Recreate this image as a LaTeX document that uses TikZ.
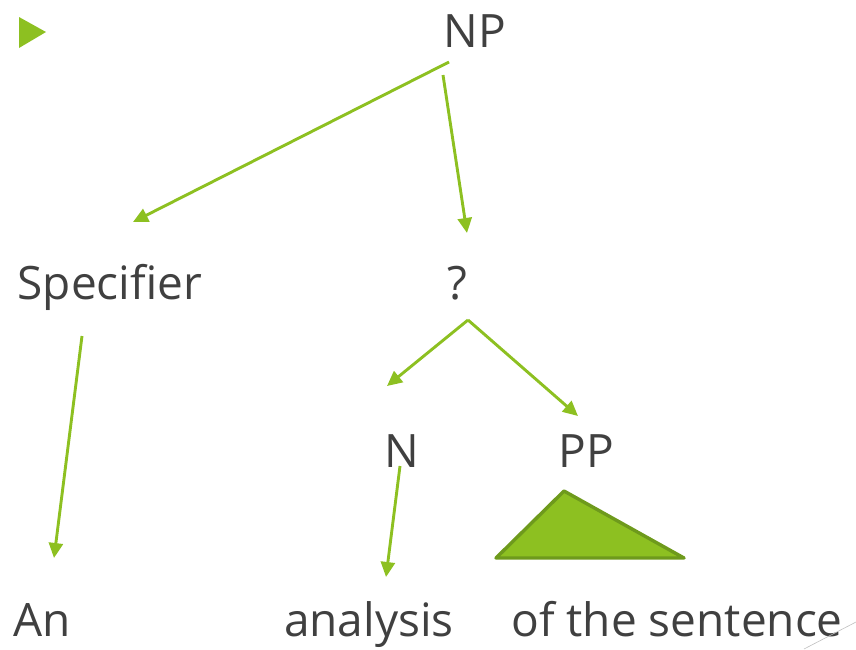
\documentclass[tikz,border=0pt]{standalone}
\usepackage{fontspec}
\setmainfont{Open Sans}
\usepackage{tikz}
\usetikzlibrary{arrows.meta}
\definecolor{leaf}{HTML}{8DC021}
\definecolor{leafdark}{HTML}{6E9A1C}
\definecolor{ink}{HTML}{404040}
\tikzset{
	branch/.style={draw=leaf, line width=2.9pt, -{Triangle[length=15pt,width=14pt]}},
	word/.style={font=\fontsize{46}{55}\selectfont, text=ink, inner sep=0pt, anchor=base}
}

\begin{document}
\begin{tikzpicture}[x=1pt,y=-1pt]
	\useasboundingbox (0,0) rectangle (856,649);
	\fill[leaf] (19,17) -- (19,48) -- (46,32) -- cycle;
	% tree labels
	\node[word] (np) at (475,47) {NP};
	\node[word] (spec) at (110,299) {Specifier};
	\node[word] (q) at (457,299) {?};
	\node[word] (n) at (402,467) {N};
	\node[word] (pp) at (586,467) {PP};
	\node[word] (an) at (42,636) {An};
	\node[word] (anal) at (369,636) {analysis};
	\node[word] (sent) at (677,636) {of the sentence};
	% branches
	\draw[branch] ([xshift=-26pt,yshift=-15pt]np.base) -- ([xshift=23pt,yshift=77pt]spec.base);
	\draw[branch] ([xshift=-32pt,yshift=-28pt]np.base) -- ([xshift=10pt,yshift=66pt]q.base);
	\draw[branch] ([xshift=11pt,yshift=-21pt]q.base) -- ([xshift=-15pt,yshift=81pt]n.base);
	\draw[branch] ([xshift=11pt,yshift=-21pt]q.base) -- ([xshift=-8pt,yshift=51pt]pp.base);
	\draw[branch] ([xshift=-28pt,yshift=-37pt]spec.base) -- ([xshift=12pt,yshift=78pt]an.base);
	\draw[branch] ([xshift=-2pt,yshift=1pt]n.base) -- ([xshift=17pt,yshift=59pt]anal.base);
	% PP triangle
	\filldraw[fill=leaf, draw=leafdark, line width=3.4pt, line join=round] (564,491) -- (496,558) -- (684,558) -- cycle;
	\draw[black!25, line width=0.6pt] (804,649) -- (856,622);
\end{tikzpicture}
\end{document}
